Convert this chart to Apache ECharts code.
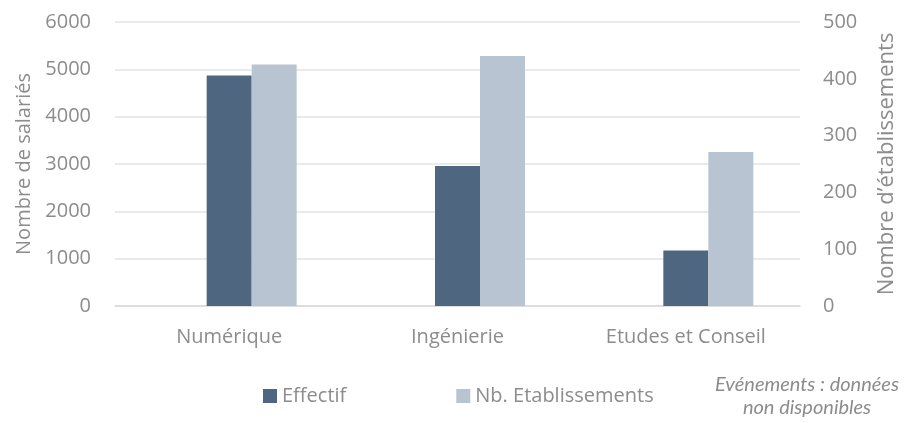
<!DOCTYPE html>
<html>
<head>
<meta charset="utf-8">
<script src="https://cdn.jsdelivr.net/npm/echarts@6/dist/echarts.min.js"></script>
<style>
  html, body { margin: 0; padding: 0; background: #fff; }
  #chart { width: 912px; height: 423px; }
</style>
</head>
<body>
<div id="chart"></div>
<script>
// Secteurs
const categories = ['Numérique', 'Ingénierie', 'Etudes et Conseil'];
// Nombre de salariés (axe gauche)
const effectif = [4870, 2960, 1170];
// Nombre d'établissements (axe droit)
const etablissements = [425, 440, 271];
// Evénements : pas de données, garde sa place dans chaque groupe
const evenements = [null, null, null];

const grey = '#8c8c8c';
const font = 'Open Sans';

const chart = echarts.init(document.getElementById('chart'));
chart.setOption({
  animation: false,
  grid: { left: 115, right: 112, top: 22, bottom: 117 },
  legend: {
    data: [
      { name: 'Effectif' },
      { name: 'Nb. Etablissements' }
    ],
    left: 258, top: 381,
    itemWidth: 14, itemHeight: 14, itemGap: 110,
    icon: 'rect',
    textStyle: { color: grey, fontFamily: font, fontSize: 20, padding: [0, 0, 0, 0] }
  },
  xAxis: {
    type: 'category',
    data: categories,
    axisLine: { lineStyle: { color: '#d9d9d9', width: 1.5 } },
    axisTick: { show: false },
    axisLabel: { color: grey, fontFamily: font, fontSize: 20, margin: 21 }
  },
  yAxis: [
    {
      type: 'value', min: 0, max: 6000, interval: 1000,
      name: 'Nombre de salariés', nameLocation: 'middle', nameRotate: 90, nameGap: 80,
      nameTextStyle: { color: grey, fontFamily: font, fontSize: 20 },
      axisLine: { show: false }, axisTick: { show: false },
      axisLabel: { color: grey, fontFamily: font, fontSize: 20, margin: 24,
        formatter: v => String(v) },
      splitLine: { lineStyle: { color: '#e3e3e3', width: 1.5 } }
    },
    {
      type: 'value', min: 0, max: 500, interval: 100,
      name: 'Nombre d\u2019établissements', nameLocation: 'middle', nameRotate: 90, nameGap: 76,
      nameTextStyle: { color: grey, fontFamily: font, fontSize: 22 },
      axisLine: { show: false }, axisTick: { show: false },
      axisLabel: { color: grey, fontFamily: font, fontSize: 20, margin: 23,
        formatter: v => String(v) },
      splitLine: { show: false }
    }
  ],
  series: [
    { name: 'Evénements', type: 'bar', data: evenements, barWidth: 45, barGap: '0%', yAxisIndex: 0 },
    { name: 'Effectif', type: 'bar', data: effectif, barWidth: 45, barGap: '0%', yAxisIndex: 0,
      itemStyle: { color: '#4e6680' } },
    { name: 'Nb. Etablissements', type: 'bar', data: etablissements, barWidth: 45, barGap: '0%', yAxisIndex: 1,
      itemStyle: { color: '#b9c4d2' } }
  ],
  graphic: [
    {
      type: 'text',
      style: {
        x: 807, y: 373, text: 'Evénements : données\nnon disponibles',
        align: 'center', fill: '#8c8c8c', font: 'italic 20px Lato', lineHeight: 23
      }
    }
  ]
});
</script>
</body>
</html>
